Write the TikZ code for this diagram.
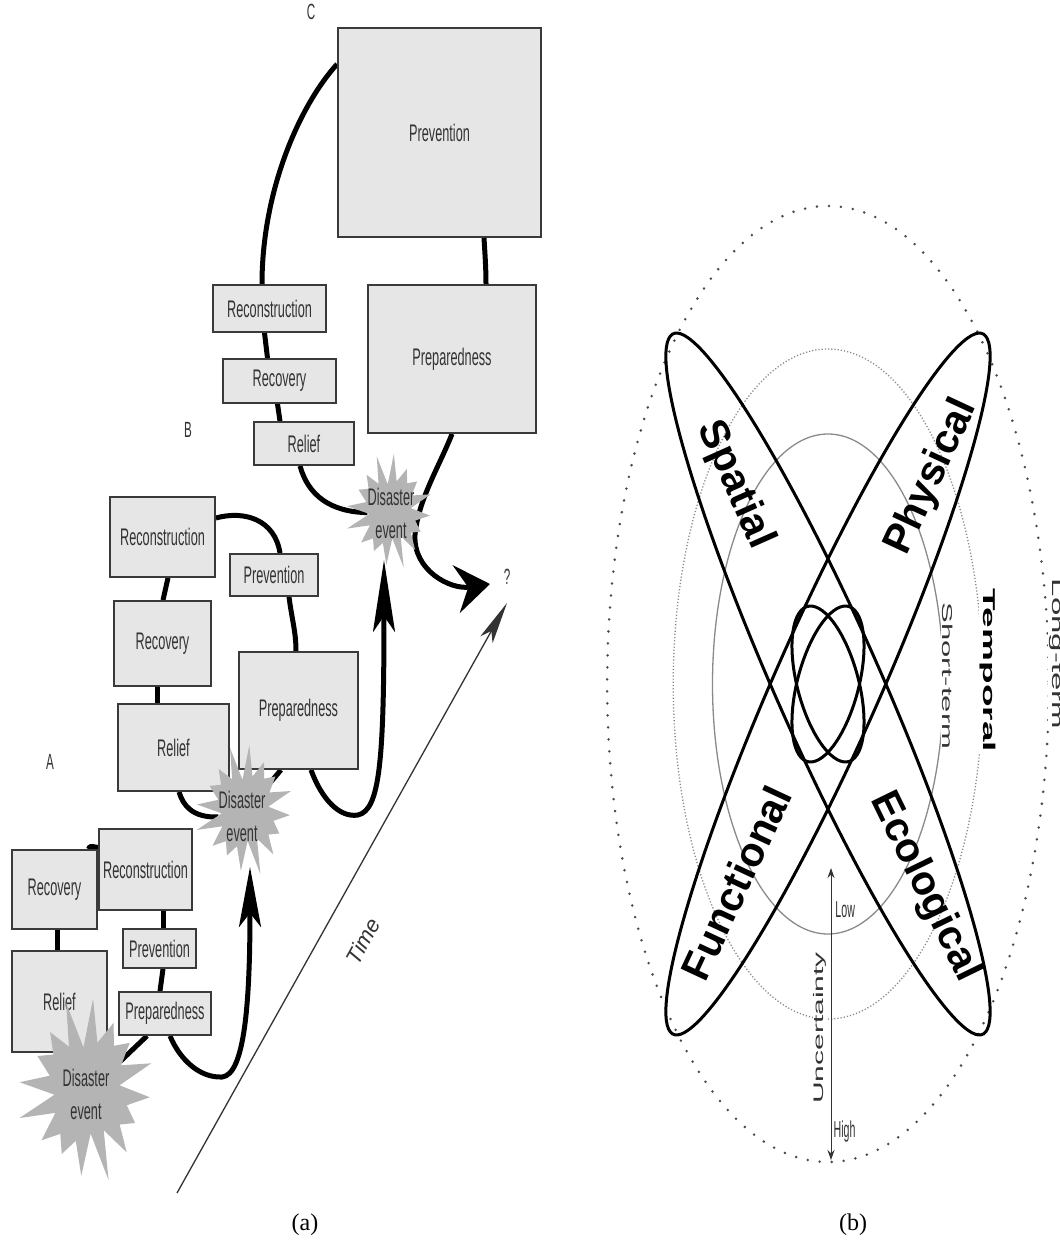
\documentclass[tikz,border=0pt]{standalone}
\usepackage{fontspec}
\setmainfont{Liberation Serif}
\setsansfont{Liberation Sans}
\usepackage{graphicx}
\usetikzlibrary{arrows.meta,calc}
\definecolor{boxfill}{HTML}{E6E6E6}
\definecolor{boxline}{HTML}{3A3A3A}
\definecolor{txt}{HTML}{333333}
\definecolor{burstgray}{HTML}{B4B4B4}
\definecolor{ringgray}{HTML}{8A8A8A}
\definecolor{dotgray}{HTML}{4A4A4A}
\pgfdeclarelayer{back}
\pgfdeclarelayer{bg}
\pgfsetlayers{back,bg,main}
\newcommand\cond[1]{\scalebox{0.53}[1]{#1}}
\newcommand\drawburst[4]{%
  \fill[burstgray] plot[samples at={0,...,31}, variable=\k]
   ({#1+#3*(1-0.4*mod(\k,2))*(1+0.14*sin(\k*137))*cos(\k*360/32+5)},
    {#2+#4*(1-0.4*mod(\k,2))*(1+0.14*sin(\k*137))*sin(\k*360/32+5)}) -- cycle;}
\tikzset{
  box/.style={draw=boxline, fill=boxfill, line width=1.8pt, inner sep=0pt, text=txt,
              font=\sffamily\fontsize{24}{28}\selectfont},
  sz/.style 2 args={minimum width=#1pt, minimum height=#2pt},
  link/.style={line width=5pt, draw=black},
  bursttext/.style={text=txt, font=\sffamily\fontsize{24}{33}\selectfont, align=center, inner sep=0pt},
  grplab/.style={text=txt, font=\sffamily\fontsize{22}{22}\selectfont, inner sep=0pt},
  outerdot/.style={draw=dotgray, line width=2.8pt, line cap=round, dash pattern=on 0pt off 12pt},
  middot/.style={draw=ringgray, line width=1.3pt, dash pattern=on 1.2pt off 2pt},
  innerring/.style={draw=ringgray, line width=1.3pt},
  petal/.style={draw=black, line width=3pt},
  biglab/.style={inner sep=0pt, font=\sffamily\bfseries\fontsize{41}{41}\selectfont},
  ringlab/.style={transform shape, inner sep=1pt, fill=white, text=txt},
}
\begin{document}
\begin{tikzpicture}[x=1pt, y=-1pt]
\begin{pgfonlayer}{back}
\fill[white] (0,0) rectangle (1060,1243);
\end{pgfonlayer}
\useasboundingbox (0,0) rectangle (1060,1243);

% ---------------- (a) ----------------
% C
\node[grplab] (labC) at (311,12) {\cond{C}};
\node[box, sz={203}{209}] (prevC) at (439.5,132.5) {\cond{Prevention}};
\node[box, sz={168}{148}] (prepC) at (452,359) {\cond{Preparedness}};
\node[box, sz={113}{47}] (reconC) at (269.5,308.5) {\cond{Reconstruction}};
\node[box, sz={113}{44}] (recovC) at (279.5,381) {\cond{Recovery}};
\node[box, sz={100}{43}] (relC) at (304,443.5) {\cond{Relief}};
% B
\node[grplab] (labB) at (188,430) {\cond{B}};
\node[box, sz={105}{80}] (reconB) at (162.5,537) {\cond{Reconstruction}};
\node[box, sz={97}{85}] (recovB) at (162.5,643.5) {\cond{Recovery}};
\node[box, sz={111}{87}] (relB) at (173.5,747.5) {\cond{Relief}};
\node[box, sz={88}{42}] (prevB) at (274,575) {\cond{Prevention}};
\node[box, sz={119}{117}] (prepB) at (298.5,710.5) {\cond{Preparedness}};
% A
\node[grplab] (labA) at (50,762) {\cond{A}};
\node[box, sz={85}{79}] (recovA) at (54.5,889.5) {\cond{Recovery}};
\node[box, sz={93}{81}] (reconA) at (145.5,869.5) {\cond{Reconstruction}};
\node[box, sz={95}{101}] (relA) at (59.5,1001.5) {\cond{Relief}};
\node[box, sz={73}{39}] (prevA) at (159.5,948.5) {\cond{Prevention}};
\node[box, sz={92}{43}] (prepA) at (165,1013.5) {\cond{Preparedness}};

% disaster events
\drawburst{390}{511}{40}{52}
\node[bursttext] (burstC) at (391,513) {\cond{Disaster}\\\cond{event}};
\drawburst{245}{810}{45}{59}
\node[bursttext] (burstB) at (242,816) {\cond{Disaster}\\\cond{event}};
\drawburst{87}{1090}{63}{83}
\node[bursttext] (burstA) at (86,1094) {\cond{Disaster}\\\cond{event}};

\node[grplab] (qm) at (507,577) {\cond{?}};
\coordinate (qarrow) at (490,584);
\node[text=txt, font=\sffamily\itshape\fontsize{22}{22}\selectfont, rotate=61, inner sep=0pt] (timelab) at (363,941) {Time};
\coordinate (t0) at (177,1193);
\coordinate (t1) at (507,603);

\begin{pgfonlayer}{bg}
% C connectors
\draw[link] ($(prevC.north west)+(0,37)$) .. controls (300,105) and (262,190) .. ($(reconC.north)+(-7.5,0)$);
\draw[link] ($(prevC.south)+(44.5,0)$) .. controls (485,255) and (486,268) .. ($(prepC.north)+(34,0)$);
\draw[link] ($(reconC.south)+(-5,0)$) -- ($(recovC.north)+(-12,0)$);
\draw[link] ($(recovC.south)+(-2,0)$) -- ($(relC.north)+(-24,0)$);
\draw[link] ($(relC.south)+(-4,0)$) .. controls (308,495) and (330,512) .. (burstC);
\draw[link, -{Stealth[length=34pt,width=48pt,inset=12pt]}] (prepC.south) .. controls (440,465) and (418,500) .. (415,535) .. controls (413,570) and (450,590) .. (qarrow);
% B connectors
\draw[link] ($(relB.south)+(5.5,0)$) .. controls (183,805) and (192,818) .. (burstB);
\draw[link] ($(recovB.south)+(-5.5,0)$) -- ($(relB.north)+(-16.5,0)$);
\draw[link] ($(reconB.south)+(5.5,0)$) -- ($(recovB.north)+(0.5,0)$);
\draw[link] ($(reconB.east)+(0,-19)$) .. controls (245,510) and (275,520) .. ($(prevB.north)+(6,0)$);
\draw[link] ($(prevB.south)+(15,0)$) .. controls (292,620) and (296,632) .. ($(prepB.north)+(-2.5,0)$);
\draw[link] ($(prepB.south)+(-17.5,0)$) -- (burstB);
\draw[link, -{Stealth[length=72pt,width=22pt,inset=16pt]}] ($(prepB.south)+(12.5,0)$) .. controls (322,800) and (340,818) .. (358,815) .. controls (380,810) and (384,760) .. ($(burstC)+(-7,47)$);
% A connectors
\draw[link] ($(recovA.north)+(34,0)$) .. controls (90,846) .. ($(reconA.west)+(0,-22)$);
\draw[link] ($(recovA.south)+(2.5,0)$) -- ($(relA.north)+(-2.5,0)$);
\draw[link] ($(reconA.south)+(17.5,0)$) -- ($(prevA.north)+(3.5,0)$);
\draw[link] ($(prevA.south)+(3.5,0)$) -- ($(prepA.north)+(-5,0)$);
\draw[link] ($(prepA.south)+(-18,0)$) -- (burstA);
\draw[link, -{Stealth[length=60pt,width=22pt,inset=14pt]}] ($(prepA.south)+(5,0)$) .. controls (180,1060) and (200,1078) .. (222,1077) .. controls (245,1075) and (250,1000) .. ($(burstB)+(8,51)$);
% time axis
\draw[line width=1.3pt, draw=txt, -{Stealth[length=42pt,width=14pt,inset=10pt]}] (t0) -- (t1);
\end{pgfonlayer}

% ---------------- (b) ----------------
\begin{scope}[shift={(828,684)}, xscale=0.462]
  \draw[outerdot] (0,0) circle [radius=478];
  \draw[middot] (0,0) circle [radius=335];
  \draw[innerring] (0,0) circle [radius=250];
  \draw[petal, rotate=-45] (0,0) ellipse [x radius=488, y radius=90];
  \draw[petal, rotate=45] (0,0) ellipse [x radius=488, y radius=90];
  \draw[petal, rotate=45] (0,0) ellipse [x radius=95, y radius=56];
  \draw[petal, rotate=-45] (0,0) ellipse [x radius=95, y radius=56];
  \node[ringlab, rotate=-90, text=black, font=\sffamily\bfseries\fontsize{37}{37}\selectfont] (ltemp) at (346,-14) {Temporal};
  \node[ringlab, rotate=-90, font=\sffamily\fontsize{31}{31}\selectfont] (lshort) at (258,-8) {Short-term};
  \node[ringlab, rotate=-90, font=\sffamily\fontsize{33}{33}\selectfont] (llong) at (493,-30) {Long-term};
  \node[ringlab, rotate=90, font=\sffamily\fontsize{30}{30}\selectfont] (lunc) at (-17,344) {Uncertainty};
  \node[ringlab, anchor=west, font=\sffamily\fontsize{23}{23}\selectfont] (llow) at (15,226) {Low};
  \node[ringlab, anchor=west, font=\sffamily\fontsize{23}{23}\selectfont] (lhigh) at (11,448) {High};
  \coordinate (ulow) at (6.5,184);
  \coordinate (uhigh) at (6.5,476);
  \draw[line width=1pt, draw=txt, {Stealth[length=10pt,width=7pt]}-{Stealth[length=10pt,width=7pt]}] (uhigh) -- (ulow);
\end{scope}
\node[biglab, rotate=-66] (lspatial) at (735,485) {Spatial};
\node[biglab, rotate=65] (lphys) at (932,477) {Physical};
\node[biglab, rotate=65] (lfunc) at (736,883) {Functional};
\node[biglab, rotate=-64] (lecol) at (925,887) {Ecological};

% captions
\node[font=\rmfamily\fontsize{24}{24}\selectfont] (capa) at (305,1225) {(a)};
\node[font=\rmfamily\fontsize{24}{24}\selectfont] (capb) at (853,1225) {(b)};
\end{tikzpicture}
\end{document}
